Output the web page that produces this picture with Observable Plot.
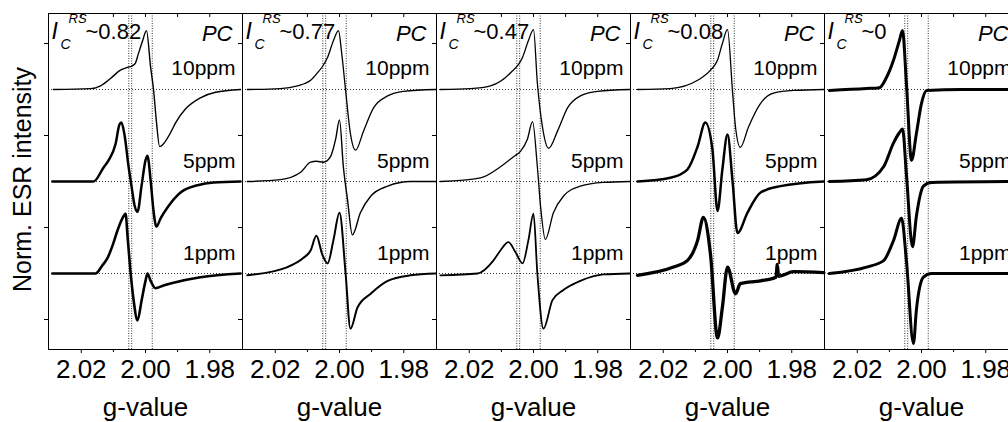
<!DOCTYPE html>
<html><head><meta charset="utf-8">
<script src="https://cdn.jsdelivr.net/npm/d3@7"></script>
<script src="https://cdn.jsdelivr.net/npm/@observablehq/plot@0.6"></script>
<style>
html,body{margin:0;padding:0;background:#fff;overflow:hidden;}
#chart{width:1008px;height:422px;overflow:hidden;}
#chart svg{font-family:"Liberation Sans",Arial,sans-serif;max-width:none !important;height:422px !important;}
</style></head><body><div id="chart"></div>
<script>
// ---- data ----
const icValues = ["0.82", "0.77", "0.47", "0.08", "0"];
const concentrations = ["10ppm", "5ppm", "1ppm"];
const traceOffsets = [2, 1, 0];
const xMajorTicks = [2.02, 2.00, 1.98];
const xMinorTicks = [2.01, 1.99];
const yTicks = [-0.5, 0.5, 1.5, 2.5];
const markerG = [2.0052, 2.0043, 1.9979];

// [g-value, normalized intensity relative to its own baseline]
const p1_10ppm = [[2.0287,0],[2.0171,0.01],[2.0140,0.04],[2.0109,0.12],[2.0078,0.21],[2.0056,0.24],[2.0040,0.26],[2.0031,0.29],[2.0022,0.39],[2.0009,0.53],[1.9997,0.64],[1.9984,0.24],[1.9975,0],[1.9966,-0.35],[1.9956,-0.62],[1.9944,-0.59],[1.9922,-0.47],[1.9906,-0.36],[1.9875,-0.21],[1.9829,-0.09],[1.9782,-0.03],[1.9704,0]];
const p1_5ppm = [[2.0290,0],[2.0162,0],[2.0131,0.15],[2.0115,0.23],[2.0093,0.41],[2.0081,0.62],[2.0075,0.64],[2.0065,0.50],[2.0053,0.17],[2.0044,-0.04],[2.0034,-0.26],[2.0025,-0.33],[2.0012,-0.04],[2.0000,0.23],[1.9994,0.28],[1.9984,0.01],[1.9975,-0.32],[1.9966,-0.49],[1.9953,-0.40],[1.9931,-0.28],[1.9891,-0.12],[1.9838,-0.04],[1.9788,-0.01],[1.9704,0]];
const p1_1ppm = [[2.0290,0],[2.0156,0],[2.0134,0.09],[2.0118,0.17],[2.0103,0.30],[2.0087,0.47],[2.0072,0.60],[2.0062,0.65],[2.0056,0.41],[2.0047,0.03],[2.0037,-0.29],[2.0025,-0.51],[2.0012,-0.29],[2.0000,-0.08],[1.9994,0],[1.9984,-0.08],[1.9969,-0.16],[1.9944,-0.13],[1.9913,-0.10],[1.9829,-0.04],[1.9704,0]];

const p2_10ppm = [[2.0287,0],[2.0184,0.01],[2.0131,0.04],[2.0090,0.10],[2.0069,0.18],[2.0053,0.25],[2.0037,0.35],[2.0019,0.53],[2.0003,0.64],[1.9994,0.42],[1.9981,-0.01],[1.9966,-0.48],[1.9950,-0.66],[1.9925,-0.45],[1.9894,-0.20],[1.9850,-0.07],[1.9801,-0.02],[1.9700,0]];
const p2_5ppm = [[2.0287,0],[2.0184,0.02],[2.0121,0.10],[2.0090,0.21],[2.0072,0.22],[2.0050,0.21],[2.0028,0.27],[2.0012,0.46],[2.0000,0.67],[1.9988,0.16],[1.9975,-0.20],[1.9960,-0.58],[1.9935,-0.34],[1.9903,-0.16],[1.9850,-0.05],[1.9779,0],[1.9700,0]];
const p2_1ppm = [[2.0287,-0.02],[2.0162,0.07],[2.0112,0.17],[2.0090,0.25],[2.0072,0.41],[2.0053,0.20],[2.0037,0.11],[2.0019,0.36],[2.0000,0.66],[1.9981,0],[1.9966,-0.60],[1.9944,-0.37],[1.9903,-0.22],[1.9850,-0.08],[1.9779,-0.02],[1.9700,0]];

const p3_10ppm = [[2.0290,0],[2.0196,0.01],[2.0134,0.04],[2.0072,0.18],[2.0034,0.35],[2.0016,0.53],[2.0000,0.65],[1.9988,0.07],[1.9972,-0.41],[1.9953,-0.64],[1.9925,-0.45],[1.9894,-0.20],[1.9854,-0.07],[1.9801,-0.02],[1.9700,0]];
const p3_5ppm = [[2.0290,0],[2.0165,0.04],[2.0103,0.16],[2.0062,0.27],[2.0040,0.33],[2.0019,0.46],[2.0003,0.65],[1.9988,0.16],[1.9978,-0.27],[1.9963,-0.63],[1.9938,-0.34],[1.9907,-0.16],[1.9854,-0.05],[1.9782,-0.01],[1.9700,0]];
const p3_1ppm = [[2.0290,-0.02],[2.0174,0],[2.0125,0.14],[2.0103,0.25],[2.0078,0.34],[2.0056,0.23],[2.0034,0.11],[2.0016,0.36],[2.0000,0.65],[1.9988,0],[1.9969,-0.60],[1.9941,-0.29],[1.9907,-0.18],[1.9854,-0.08],[1.9782,-0.01],[1.9700,0]];

const p4_10ppm = [[2.0280,0],[2.0178,0.01],[2.0093,0.10],[2.0053,0.21],[2.0031,0.32],[2.0016,0.50],[2.0000,0.65],[1.9984,-0.04],[1.9975,-0.41],[1.9960,-0.63],[1.9935,-0.41],[1.9897,-0.15],[1.9857,-0.04],[1.9794,-0.01],[1.9700,0]];
const p4_5ppm = [[2.0280,0],[2.0178,0.04],[2.0125,0.13],[2.0093,0.38],[2.0069,0.64],[2.0047,0.35],[2.0031,-0.32],[2.0016,0.13],[2.0000,0.51],[1.9984,-0.01],[1.9969,-0.56],[1.9938,-0.34],[1.9897,-0.12],[1.9835,-0.05],[1.9700,0]];
const p4_1ppm = [[2.0280,-0.02],[2.0168,0.07],[2.0125,0.14],[2.0093,0.36],[2.0075,0.61],[2.0053,0.21],[2.0031,-0.70],[2.0016,-0.37],[2.0000,0.07],[1.9975,-0.22],[1.9960,-0.11],[1.9897,-0.08],[1.9849,-0.04],[1.9845,0.10],[1.9841,-0.03],[1.9794,0.02],[1.9700,0.01]];

const p5_10ppm = [[2.0287,-0.01],[2.0171,0.01],[2.0131,0.02],[2.0109,0.13],[2.0087,0.32],[2.0069,0.53],[2.0059,0.64],[2.0047,0.07],[2.0031,-0.77],[2.0016,-0.48],[2.0000,-0.15],[1.9984,-0.01],[1.9875,0],[1.9698,0]];
const p5_5ppm = [[2.0287,0],[2.0171,0.02],[2.0118,0.16],[2.0087,0.42],[2.0069,0.53],[2.0059,0.57],[2.0047,0.08],[2.0028,-0.71],[2.0016,-0.38],[1.9994,-0.05],[1.9969,-0.01],[1.9698,0]];
const p5_1ppm = [[2.0287,0],[2.0171,0.07],[2.0118,0.14],[2.0087,0.36],[2.0062,0.60],[2.0047,0.14],[2.0025,-0.76],[2.0016,-0.40],[1.9994,-0.04],[1.9969,0],[1.9698,0]];

// ---- styling (not data) ----
const traceSets = [
  [p1_10ppm, p1_5ppm, p1_1ppm],
  [p2_10ppm, p2_5ppm, p2_1ppm],
  [p3_10ppm, p3_5ppm, p3_1ppm],
  [p4_10ppm, p4_5ppm, p4_1ppm],
  [p5_10ppm, p5_5ppm, p5_1ppm]
];
const lineWidths = [[1.4,2.5,2.6],[1.3,1.4,2.0],[1.3,1.3,1.8],[1.3,2.5,3.3],[3.0,3.0,3.0]];
const panelIdx = icValues.map((_, i) => i);
const FONT = "Liberation Sans, Arial, sans-serif";

const lineMarks = [];
traceSets.forEach((set, pi) => set.forEach((pts, ci) => {
  const rows = pts.map(([g, v]) => ({panel: pi, g, y: traceOffsets[ci] + v}));
  lineMarks.push(Plot.line(rows, {fx: "panel", x: "g", y: "y", stroke: "#000", strokeWidth: lineWidths[pi][ci], curve: "monotone-x"}));
}));

const concLabels = [];
panelIdx.forEach(pi => concentrations.forEach((c, ci) => concLabels.push({panel: pi, label: c, y: traceOffsets[ci]})));
const icRows = icValues.map((v, i) => ({panel: i, label: "~" + v}));

const chart = Plot.plot({
  width: 1020, height: 422,
  marginLeft: 48, marginRight: 2, marginTop: 13, marginBottom: 73,
  style: {fontFamily: FONT, color: "#000", background: "#fff", maxWidth: "none"},
  fx: {domain: panelIdx, padding: 0, axis: null},
  x: {domain: [2.0302, 1.9698]},
  y: {domain: [-0.826, 2.826]},
  marks: [
    Plot.ruleY(traceOffsets, {stroke: "#333", strokeDasharray: "1,2", strokeWidth: 1}),
    Plot.ruleX(markerG, {stroke: "#333", strokeDasharray: "1,1.5", strokeWidth: 1}),
    ...lineMarks,
    Plot.frame({stroke: "#000", strokeWidth: 1}),
    Plot.axisX({ticks: xMajorTicks, anchor: "bottom", tickSize: 4, tickPadding: 6, fontSize: 26, tickFormat: d => d.toFixed(2), label: null}),
    Plot.axisX({ticks: xMinorTicks, anchor: "bottom", tickSize: 3, tickFormat: () => "", label: null}),
    Plot.axisX({ticks: [...xMajorTicks, ...xMinorTicks], anchor: "top", tickSize: -3, tickFormat: () => "", label: null}),
    Plot.axisY({ticks: yTicks, anchor: "left", tickSize: 4, tickFormat: () => "", label: null, facetAnchor: null}),
    Plot.text(panelIdx, {fx: d => d, text: () => "g-value", frameAnchor: "bottom", textAnchor: "middle", lineAnchor: "bottom", dy: 66, fontSize: 26}),
    Plot.text([0], {fx: d => d, text: () => "Norm. ESR intensity", frameAnchor: "left", textAnchor: "middle", rotate: -90, lineAnchor: "bottom", dx: -18, dy: -2, fontSize: 25}),
    Plot.text(panelIdx, {fx: d => d, text: () => "I", frameAnchor: "top-left", textAnchor: "start", lineAnchor: "bottom", dx: 3, dy: 25, fontSize: 23, fontStyle: "italic"}),
    Plot.text(panelIdx, {fx: d => d, text: () => "C", frameAnchor: "top-left", textAnchor: "start", lineAnchor: "bottom", dx: 12, dy: 35, fontSize: 14, fontStyle: "italic"}),
    Plot.text(panelIdx, {fx: d => d, text: () => "RS", frameAnchor: "top-left", textAnchor: "start", lineAnchor: "bottom", dx: 20, dy: 9, fontSize: 13, fontStyle: "italic"}),
    Plot.text(icRows, {fx: "panel", text: "label", frameAnchor: "top-left", textAnchor: "start", lineAnchor: "bottom", dx: 37, dy: 25, fontSize: 22}),
    Plot.text(panelIdx, {fx: d => d, text: () => "PC", frameAnchor: "top-right", textAnchor: "end", lineAnchor: "bottom", dx: -10, dy: 27, fontSize: 22, fontStyle: "italic"}),
    Plot.text(concLabels, {fx: "panel", y: "y", text: "label", frameAnchor: "right", textAnchor: "end", lineAnchor: "bottom", dx: -7, dy: -14, fontSize: 21})
  ]
});
document.getElementById("chart").appendChild(chart);
</script>
</body></html>
